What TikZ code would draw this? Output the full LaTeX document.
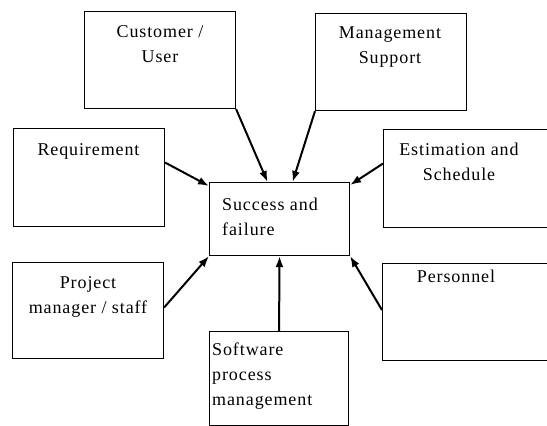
\documentclass[tikz,border=0pt]{standalone}
\usepackage{fontspec}
\setmainfont[LetterSpace=5]{Liberation Serif}
\usetikzlibrary{arrows.meta}
\begin{document}
\begin{tikzpicture}[x=1pt,y=-1pt,
  box/.style={draw=black,line width=1.1pt,rectangle,inner sep=0pt,anchor=north west},
  label text/.style={inner sep=0pt,font=\fontsize{18}{25}\selectfont},
  link/.style={line width=2pt,-{Latex[length=11pt,width=8pt]}}]
\useasboundingbox (0,0) rectangle (547,426);
% frames
\node[box,minimum width=151pt,minimum height=97pt] (cust) at (84,11) {};
\node[box,minimum width=151pt,minimum height=97pt] (mgmt) at (315,13) {};
\node[box,minimum width=151pt,minimum height=98pt] (req) at (13,128) {};
\node[box,minimum width=175pt,minimum height=98pt] (est) at (383,129) {};
\node[box,minimum width=140pt,minimum height=73pt] (succ) at (209,182) {};
\node[box,minimum width=151pt,minimum height=96pt] (proj) at (12,262) {};
\node[box,minimum width=175pt,minimum height=97pt] (pers) at (382,263) {};
\node[box,minimum width=139pt,minimum height=94pt] (soft) at (209,331) {};
% captions
\node[label text,anchor=north,align=center] (custT) at (160,19.5) {\strut Customer /\\User};
\node[label text,anchor=north,align=center] (mgmtT) at (390,20.5) {\strut Management\\Support};
\node[label text,anchor=north,align=center] (reqT) at (88.5,137.5) {\strut Requirement};
\node[label text,anchor=north,align=center] (estT) at (459,137.5) {\strut Estimation and\\Schedule};
\node[label text,anchor=north west,align=left] (succT) at (222,192.5) {\strut Success and\\failure};
\node[label text,anchor=north,align=center] (projT) at (88,270.5) {\strut Project\\manager / staff};
\node[label text,anchor=north,align=center] (persT) at (456,264.5) {\strut Personnel};
\node[label text,anchor=north west,align=left] (softT) at (212,337.5) {\strut Software\\process\\management};
% influences
\draw[link] (cust.south east) -- ([xshift=-12pt]succ.north);
\draw[link] (mgmt.south west) -- ([xshift=13pt]succ.north);
\draw[link] ([yshift=15pt]req.east) -- ([yshift=-4pt]succ.north west);
\draw[link] ([yshift=15pt]est.west) -- ([yshift=-3pt]succ.north east);
\draw[link] ([yshift=3pt]proj.east) -- (succ.south west);
\draw[link] (soft.north) -- (succ.south);
\draw[link] ([yshift=2pt]pers.west) -- (succ.south east);
\end{tikzpicture}
\end{document}
